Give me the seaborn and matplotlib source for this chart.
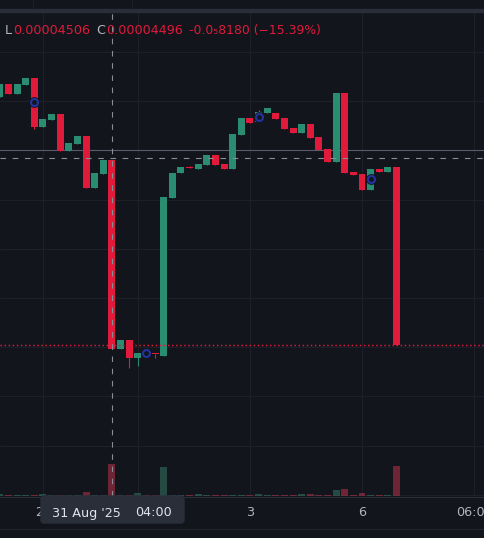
import matplotlib
matplotlib.use("Agg")
import matplotlib.pyplot as plt
import matplotlib.transforms as mtrans
from matplotlib.patches import FancyBboxPatch, Rectangle
from matplotlib.lines import Line2D
import numpy as np
import pandas as pd
import seaborn as sns

# ---------------- data (prices in units of 1e-5) ----------------
bar_index = list(range(-1, 46))
opens = [5.587, 5.643, 5.600, 5.639, 5.669, 5.457, 5.487, 5.513, 5.353, 5.383,
         5.418, 5.193, 5.253, 5.314, 4.496, 4.535, 4.457, 4.481, 4.475, 4.466,
         5.150, 5.258, 5.283, 5.275, 5.292, 5.336, 5.297, 5.275, 5.422, 5.496,
         5.479, 5.517, 5.517, 5.496, 5.453, 5.431, 5.470, 5.414, 5.362, 5.305,
         5.604, 5.262, 5.253, 5.184, 5.275, 5.262, 5.284]
highs = [5.643, 5.643, 5.643, 5.669, 5.669, 5.491, 5.513, 5.513, 5.388, 5.418,
         5.418, 5.258, 5.314, 5.314, 4.535, 4.535, 4.479, 4.481, 4.475, 5.154,
         5.258, 5.284, 5.288, 5.297, 5.336, 5.336, 5.297, 5.427, 5.496, 5.496,
         5.530, 5.539, 5.517, 5.496, 5.453, 5.470, 5.470, 5.414, 5.362, 5.604,
         5.604, 5.262, 5.253, 5.275, 5.275, 5.284, 5.284]
lows = [5.587, 5.600, 5.600, 5.639, 5.448, 5.457, 5.487, 5.353, 5.353, 5.383,
        5.193, 5.193, 5.253, 4.496, 4.496, 4.414, 4.422, 4.479, 4.457, 4.466,
        5.150, 5.258, 5.281, 5.275, 5.292, 5.292, 5.275, 5.275, 5.422, 5.474,
        5.479, 5.517, 5.491, 5.448, 5.431, 5.431, 5.409, 5.357, 5.305, 5.305,
        5.258, 5.249, 5.184, 5.184, 5.262, 5.262, 4.513]
closes = [5.643, 5.600, 5.643, 5.669, 5.458, 5.491, 5.513, 5.353, 5.388, 5.418,
          5.193, 5.258, 5.314, 4.496, 4.535, 4.457, 4.479, 4.479, 4.473, 5.154,
          5.258, 5.284, 5.281, 5.297, 5.336, 5.292, 5.275, 5.427, 5.496, 5.474,
          5.522, 5.539, 5.491, 5.448, 5.431, 5.470, 5.409, 5.357, 5.305, 5.604,
          5.258, 5.249, 5.184, 5.275, 5.262, 5.284, 4.513]
volumes = [2, 1, 1, 1, 1, 2, 1, 1, 1, 1,
           4, 1, 1, 32, 1, 1, 3, 1, 1, 29,
           1, 1, 1, 2, 1, 1, 1, 1, 1, 1,
           2, 1, 1, 1, 1, 2, 2, 1, 1, 6,
           7, 1, 3, 1, 1, 1, 30]

signal_index = [3, 16, 29, 42]
signal_price = [5.565, 4.479, 5.500, 5.232]

crosshair_index = 12
crosshair_price = 5.321
ref_line_price = 5.357
last_price = closes[-1]

grid_index = [4, 15, 28, 41, 54]
time_label_index = [28, 41, 54]
time_labels = ["3", "6", "06:00"]
hidden_label = "2"
legend_low = "0.00004506"
legend_close = "0.00004496"
legend_change = "-0.0\u20858180 (\u221215.39%)"
cross_date = "31 Aug '25"
cross_time = "04:00"

# ---------------- style ----------------
W, H = 484, 538
bg = "#12151c"
grid_c = "#1d2029"
band_c = "#2a2e39"
up_c = "#2a8c70"
down_c = "#e11a3b"
ring_c = "#2233a0"
txt_grey = "#b2b5be"

sns.set_theme(style="dark", rc={"axes.facecolor": bg, "figure.facecolor": bg,
                                "grid.color": grid_c, "axes.edgecolor": bg})
plt.rcParams["font.family"] = ["DejaVu Sans"]

fig = plt.figure(figsize=(W / 100, H / 100), dpi=100)
fig.patch.set_facecolor(bg)

top_px, bot_px = 12, 496
ax = fig.add_axes([0, (H - bot_px) / H, 1, (bot_px - top_px) / H])
ax.set_facecolor(bg)

# pixel -> data helpers (layout only)
x0, dx = 8.5, 8.622
k = 0.004328
def px_to_price(py):
    return 4.496 + (349 - py) * k

ax.set_xlim(-x0 / dx, (W - x0) / dx)
ax.set_ylim(px_to_price(bot_px), px_to_price(top_px))

hgrid = [px_to_price(52 + 49.2 * j) for j in range(10)]
ax.set_yticks(hgrid)
ax.set_xticks(grid_index)
ax.set_xticklabels([])
ax.set_yticklabels([])
ax.tick_params(length=0)
ax.grid(True, color=grid_c, lw=0.8)
ax.set_axisbelow(True)
for s in ax.spines.values():
    s.set_visible(False)

# candles
colors = [up_c if c >= o else down_c for o, c in zip(opens, closes)]
bottoms = [min(o, c) for o, c in zip(opens, closes)]
heights = [max(abs(c - o), k) for o, c in zip(opens, closes)]
ax.vlines(bar_index, lows, highs, colors=colors, lw=0.8, zorder=3)
ax.bar(bar_index, heights, bottom=bottoms, width=0.81, color=colors,
       linewidth=0, zorder=3.1)

# reference lines
ax.axhline(ref_line_price, color="#5a5d68", lw=0.8, zorder=2)
ax.axhline(last_price, color=down_c, lw=1.05, ls=(0, (1.0, 1.8)), zorder=4)

# signal rings
ax.plot(signal_index, signal_price, "o", ms=7.8, color=bg, mew=0, zorder=5)
ax.plot(signal_index, signal_price, "o", ms=5.0, mfc="none", mec=ring_c,
        mew=1.5, zorder=6)

# crosshair horizontal
ax.axhline(crosshair_price, color="#8a8d96", lw=0.8, ls=(0, (5, 6)), zorder=7)

# volume
axv = ax.twinx()
df = pd.DataFrame({"i": bar_index, "v": volumes,
                   "dir": ["up" if c >= o else "down" for o, c in zip(opens, closes)]})
sns.barplot(data=df, x="i", y="v", hue="dir", palette={"up": up_c, "down": down_c},
            native_scale=True, width=0.81, dodge=False, errorbar=None,
            alpha=0.5, linewidth=0, legend=False, ax=axv)
axv.set_ylim(0, bot_px - top_px)
axv.set_xlim(-x0 / dx, (W - x0) / dx)
axv.set_yticks([])
axv.set_xlabel("")
axv.set_ylabel("")
axv.tick_params(length=0, labelbottom=False, labelright=False)
for s in axv.spines.values():
    s.set_visible(False)
axv.axvline(crosshair_index, color="#8a8d96", lw=0.8, ls=(0, (5, 6)), zorder=10)
ax.set_xticks(grid_index)
ax.set_xticklabels([])

# ---------------- frame elements in pixel coords ----------------
ident = mtrans.IdentityTransform()
def fy(py):
    return H - py

fig.patches.append(Rectangle((0, fy(12.3)), W, 3.2, transform=ident,
                             color=band_c, zorder=1))
for xx in (33, 132):
    fig.lines.append(Line2D([xx, xx], [fy(9), fy(0)], transform=ident,
                            color=grid_c, lw=0.8))
fig.lines.append(Line2D([0, W], [fy(496.5), fy(496.5)], transform=ident,
                        color=band_c, lw=0.8))
fig.lines.append(Line2D([0, W], [fy(528.5), fy(528.5)], transform=ident,
                        color="#22252e", lw=0.8))

fs = 9.2
# legend
def ftxt(px, py, s, color, **kw):
    fig.text(px / W, 1 - py / H, s, color=color, fontsize=kw.pop("size", fs),
             va="baseline", ha=kw.pop("ha", "left"), **kw)

ftxt(5, 34.3, "L", txt_grey)
ftxt(13, 34.3, legend_low, down_c)
ftxt(96, 34.3, "C", txt_grey)
ftxt(106, 34.3, legend_close, down_c)
ftxt(189, 34.3, legend_change, down_c, size=8.9)

# time axis labels
ftxt(35, 516.5, hidden_label, txt_grey)
for i, lab in zip(time_label_index, time_labels):
    ftxt(x0 + dx * i, 516.5, lab, txt_grey, ha="center")

# crosshair time tooltip
fig.patches.append(FancyBboxPatch((41, fy(523)), 143, 27,
                                  boxstyle="round,pad=0,rounding_size=3",
                                  transform=ident, color="#2a2e39", zorder=5))
fig.text(52 / W, 1 - 516.5 / H, cross_date, color="#e0e3eb", fontsize=fs,
         va="baseline", ha="left", zorder=6)
fig.text(135 / W, 1 - 516.5 / H, cross_time, color="#e0e3eb", fontsize=fs,
         va="baseline", ha="left", zorder=6)

fig.savefig("out.png", dpi=100, facecolor=bg)
